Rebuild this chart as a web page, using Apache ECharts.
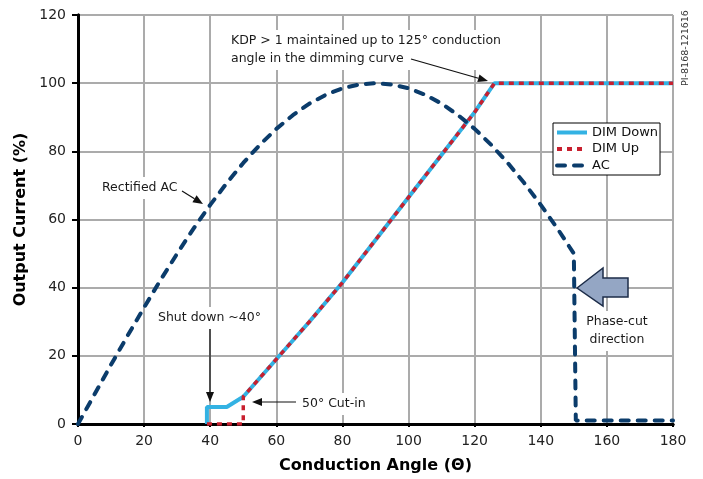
<!DOCTYPE html>
<html>
<head>
<meta charset="utf-8">
<script src="https://cdn.jsdelivr.net/npm/echarts@6/dist/echarts.min.js"></script>
<style>
html, body { margin: 0; padding: 0; background: #fff; }
#chart { width: 703px; height: 479px; }
</style>
</head>
<body>
<div id="chart"></div>
<script>
// values
const xTicks = [0, 20, 40, 60, 80, 100, 120, 140, 160, 180];
const yTicks = [0, 20, 40, 60, 80, 100, 120];

const dimDownX = [39, 39, 45, 50, 60, 70, 80, 90, 100, 110, 120, 126, 180];
const dimDownY = [0, 5, 5, 8, 19, 30, 41.5, 54, 66.5, 79, 91.5, 100, 100];

const dimUpX = [39, 50, 50, 60, 70, 80, 90, 100, 110, 120, 126, 180];
const dimUpY = [0, 0, 8, 19, 30, 41.5, 54, 66.5, 79, 91.5, 100, 100];

const acX = [0, 5, 10, 15, 20, 25, 30, 35, 40, 45, 50, 55, 60, 65, 70, 75, 80, 85, 90,
             95, 100, 105, 110, 115, 120, 125, 130, 135, 140, 145, 150, 150.6, 180];
const acY = [0, 8.7, 17.4, 25.9, 34.2, 42.3, 50, 57.4, 64.3, 70.7, 76.6, 81.9, 86.6, 90.6, 94, 96.6, 98.5, 99.6, 100,
             99.6, 98.5, 96.6, 94, 90.6, 86.6, 81.9, 76.6, 70.7, 64.3, 57.4, 50, 1, 1];

const FONT = 'DejaVu Sans';

function pairs(xs, ys) {
    return xs.map((x, i) => [x, ys[i]]);
}

// annotation arrow: line + filled head
function arrow(x1, y1, x2, y2) {
    const a = Math.atan2(y2 - y1, x2 - x1);
    const L = 10, W = 4;
    const bx = x2 - L * Math.cos(a), by = y2 - L * Math.sin(a);
    return [
        { type: 'line', shape: { x1: x1, y1: y1, x2: bx, y2: by }, style: { stroke: '#111', lineWidth: 1.2 }, z: 100 },
        { type: 'polygon', shape: { points: [[x2, y2],
            [bx + W * Math.sin(a), by - W * Math.cos(a)],
            [bx - W * Math.sin(a), by + W * Math.cos(a)]] }, style: { fill: '#111' }, z: 100 }
    ];
}

function label(text, x, y, align) {
    return {
        type: 'text', x: x, y: y, z: 100,
        style: {
            text: text, font: '12.5px "' + FONT + '"', fill: '#1a1a1a',
            align: align || 'left', verticalAlign: 'middle',
            backgroundColor: '#fff', padding: [2, 2], lineHeight: 18
        }
    };
}

// plain black frame axes for top / right edges
const frame = { show: true, lineStyle: { color: '#000', width: 3 } };

let myChart = echarts.init(document.getElementById('chart'));

myChart.setOption({
    animation: false,
    grid: { left: 78, right: 30, top: 15, bottom: 54 },
    legend: {
        orient: 'vertical',
        left: 553, top: 123,
        padding: [3, 2, 3, 2],
        itemGap: 3.5,
        itemWidth: 30, itemHeight: 14,
        borderColor: '#000', borderWidth: 1,
        backgroundColor: '#fff',
        itemStyle: { opacity: 0 },
        lineStyle: { width: 4 },
        textStyle: { fontFamily: FONT, fontSize: 13, color: '#111' },
        data: ['DIM Down', 'DIM Up', 'AC']
    },
    xAxis: [{
        type: 'value', min: 0, max: 180, interval: 20,
        name: 'Conduction Angle (Θ)', nameLocation: 'middle', nameGap: 34,
        nameTextStyle: { fontFamily: FONT, fontSize: 16, fontWeight: 'bold', color: '#000' },
        axisLine: { onZero: false, lineStyle: { color: '#000', width: 3 } },
        axisTick: { show: true, length: 3, lineStyle: { color: '#000', width: 2 } },
        axisLabel: { fontFamily: FONT, fontSize: 14, color: '#222', margin: 10,
            formatter: v => xTicks.includes(v) ? String(v) : '' },
        splitLine: { show: true, lineStyle: { color: '#ababab', width: 2 } },
        z: 3
    }, {
        type: 'value', min: 0, max: 180, position: 'top',
        axisLine: frame, axisTick: { show: false }, axisLabel: { show: false }, splitLine: { show: false },
        z: 3
    }],
    yAxis: [{
        type: 'value', min: 0, max: 120, interval: 20,
        name: 'Output Current (%)', nameLocation: 'middle', nameGap: 48,
        nameTextStyle: { fontFamily: FONT, fontSize: 16, fontWeight: 'bold', color: '#000' },
        axisLine: { show: true, lineStyle: { color: '#000', width: 3 } },
        axisTick: { show: true, length: 6, lineStyle: { color: '#000', width: 2 } },
        axisLabel: { fontFamily: FONT, fontSize: 14, color: '#222', margin: 12,
            formatter: v => yTicks.includes(v) ? String(v) : '' },
        splitLine: { show: true, lineStyle: { color: '#ababab', width: 2 } },
        z: 3
    }, {
        type: 'value', min: 0, max: 120, position: 'right',
        axisLine: frame, axisTick: { show: false }, axisLabel: { show: false }, splitLine: { show: false },
        z: 3
    }],
    series: [
        {
            name: 'DIM Down', type: 'line', symbol: 'none',
            lineStyle: { color: '#33b2e3', width: 4 },
            itemStyle: { color: '#33b2e3' },
            data: pairs(dimDownX, dimDownY)
        },
        {
            name: 'DIM Up', type: 'line', symbol: 'none',
            lineStyle: { color: '#c8202f', width: 3.5, type: [5, 5] },
            itemStyle: { color: '#c8202f' },
            data: pairs(dimUpX, dimUpY)
        },
        {
            name: 'AC', type: 'line', symbol: 'none',
            lineStyle: { color: '#0b3c6b', width: 4, type: [8, 9], cap: 'round' },
            itemStyle: { color: '#0b3c6b' },
            data: pairs(acX, acY)
        }
    ],
    graphic: [
        label('KDP > 1 maintained up to 125° conduction\nangle in the dimming curve', 229, 50),
        ...arrow(411, 59, 488, 81),
        label('Rectified AC', 100, 188),
        ...arrow(182, 191, 203, 204),
        label('Shut down ~40°', 156, 318),
        ...arrow(210, 329, 210, 402),
        label('50° Cut-in', 300, 404),
        ...arrow(296, 402, 252, 402),
        label('Phase-cut\ndirection', 617, 331, 'center'),
        {
            type: 'polygon', z: 100,
            shape: { points: [[577, 288], [603, 268], [603, 278], [628, 278], [628, 297], [603, 297], [603, 306]] },
            style: { fill: '#94a6c4', stroke: '#1c2c48', lineWidth: 1.5 }
        },
        {
            type: 'text', x: 686, y: 48, rotation: Math.PI / 2, z: 100,
            style: { text: 'PI-8168-121616', font: '9.5px "' + FONT + '"', fill: '#333',
                align: 'center', verticalAlign: 'middle' }
        }
    ]
});
</script>
</body>
</html>
